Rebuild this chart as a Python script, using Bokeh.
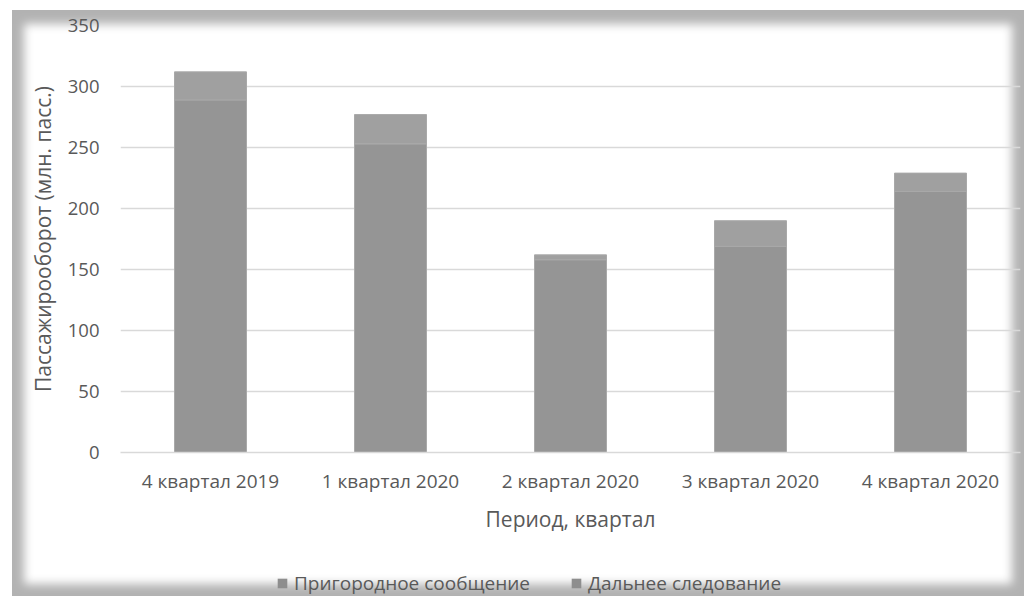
from bokeh.plotting import figure
from bokeh.layouts import column
from bokeh.models import Range1d, FixedTicker, Legend, LegendItem, FactorRange, ColumnDataSource
from bokeh.embed import file_html
from bokeh.resources import INLINE

periods = ["4 квартал 2019", "1 квартал 2020", "2 квартал 2020", "3 квартал 2020", "4 квартал 2020"]
suburban = [289, 253, 158, 169, 214]
long_distance = [23, 24, 4, 21, 15]
series_names = ["Пригородное сообщение", "Дальнее следование"]
y_ticks = [0, 50, 100, 150, 200, 250, 300, 350]
y_title = "Пассажирооборот (млн. пасс.)"
x_title = "Период, квартал"

FONT = "Open Sans"
TEXT = "#595959"
GRID = "#d9d9d9"
COLORS = ["#959595", "#a0a0a0"]

source = ColumnDataSource(dict(period=periods, sub=suburban, longd=long_distance))

p = figure(width=1024, height=548,
           x_range=FactorRange(*periods), y_range=Range1d(0, 350),
           output_backend="svg", toolbar_location=None,
           min_border_left=120, min_border_right=4, min_border_top=25, min_border_bottom=96,
           border_fill_color=None, background_fill_color=None, outline_line_color=None)

renderers = p.vbar_stack(["sub", "longd"], x="period", width=0.4, source=source,
                         fill_color=COLORS, line_color="#a9a9a9", line_width=1)

# grid
p.xgrid.grid_line_color = None
p.ygrid.grid_line_color = GRID
p.ygrid.grid_line_width = 1.5
p.ygrid.ticker = FixedTicker(ticks=y_ticks)

# y axis
p.yaxis.ticker = FixedTicker(ticks=y_ticks)
p.yaxis.axis_line_color = None
p.yaxis.major_tick_line_color = None
p.yaxis.minor_tick_line_color = None
p.yaxis.major_tick_out = 0
p.yaxis.major_label_standoff = 21
p.yaxis.major_label_text_font = FONT
p.yaxis.major_label_text_font_size = "18.5px"
p.yaxis.major_label_text_color = TEXT
p.yaxis.axis_label = y_title
p.yaxis.axis_label_text_font = FONT
p.yaxis.axis_label_text_font_size = "21px"
p.yaxis.axis_label_text_font_style = "normal"
p.yaxis.axis_label_text_color = TEXT
p.yaxis.axis_label_standoff = 8

# x axis
p.xaxis.axis_line_color = GRID
p.xaxis.axis_line_width = 1.5
p.xaxis.major_tick_line_color = None
p.xaxis.minor_tick_line_color = None
p.xaxis.major_tick_out = 0
p.xaxis.major_label_standoff = 15
p.xaxis.major_label_text_font = FONT
p.xaxis.major_label_text_font_size = "19px"
p.xaxis.major_label_text_color = TEXT
p.xaxis.axis_label = x_title
p.xaxis.axis_label_text_font = FONT
p.xaxis.axis_label_text_font_size = "21px"
p.xaxis.axis_label_text_font_style = "normal"
p.xaxis.axis_label_text_color = TEXT
p.xaxis.axis_label_standoff = 8

# legend strip below the chart (same data, bars kept out of its visible range)
pl = figure(width=1024, height=48,
            x_range=FactorRange(*periods), y_range=Range1d(1000, 1001),
            output_backend="svg", toolbar_location=None,
            min_border_left=0, min_border_right=0, min_border_top=0, min_border_bottom=0,
            border_fill_color=None, background_fill_color=None, outline_line_color=None)
pl.axis.visible = False
pl.grid.visible = False
leg_renderers = pl.vbar_stack(["sub", "longd"], x="period", width=0.4, source=source,
                              fill_color=["#8e8e8e", "#8e8e8e"], line_color=None)

legend = Legend(items=[LegendItem(label=series_names[0], renderers=[leg_renderers[0]]),
                       LegendItem(label=series_names[1], renderers=[leg_renderers[1]])],
                location=(156, 0), orientation="horizontal",
                padding=0, margin=0, spacing=40, label_standoff=6,
                glyph_width=12, glyph_height=12, label_height=20,
                border_line_color=None, background_fill_color=None,
                label_text_font=FONT, label_text_font_size="19px", label_text_color=TEXT)
pl.add_layout(legend, "center")

layout = column(p, pl, spacing=0)
layout.styles = {
    "background-color": "#ffffff",
    "box-shadow": "inset 12px 10px 0 0 #ffffff, inset 6px 6px 10px 18px rgba(0,0,0,0.30)",
}

open("out.html", "w").write(file_html(layout, INLINE))
